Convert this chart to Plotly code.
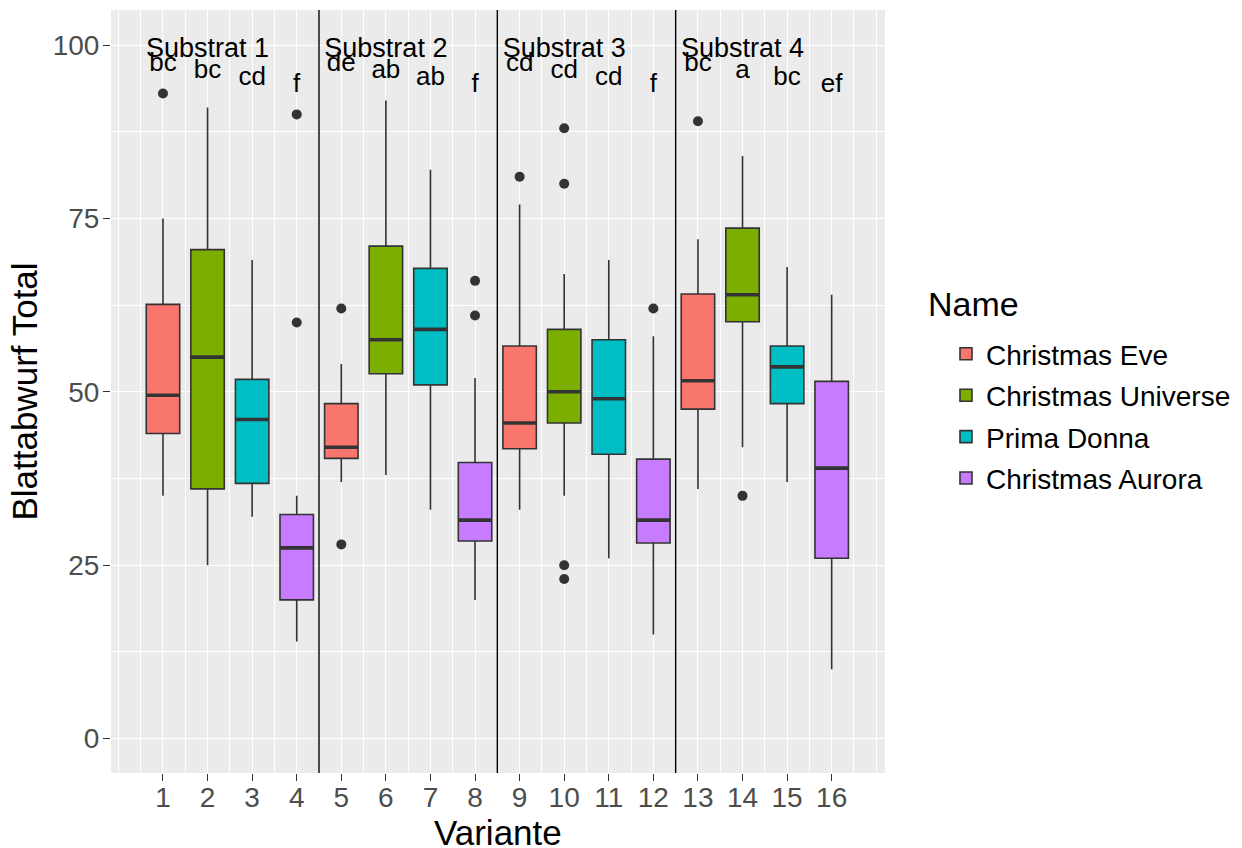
import plotly.graph_objects as go

# ---------------- data ----------------
variante = list(range(1, 17))
names = ["Christmas Eve", "Christmas Universe", "Prima Donna", "Christmas Aurora"]
colors = ["#F8766D", "#7CAE00", "#00BFC4", "#C77CFF"]

# positions of each cultivar on the Variante axis
pos_eve = [1, 5, 9, 13]
pos_universe = [2, 6, 10, 14]
pos_prima = [3, 7, 11, 15]
pos_aurora = [4, 8, 12, 16]

# box statistics (lower whisker, Q1, median, Q3, upper whisker)
lo_eve = [35, 37, 33, 36]
q1_eve = [44, 40.4, 41.8, 47.5]
med_eve = [49.5, 42, 45.5, 51.6]
q3_eve = [62.6, 48.3, 56.6, 64.1]
hi_eve = [75, 54, 77, 72]

lo_universe = [25, 38, 35, 42]
q1_universe = [36, 52.6, 45.5, 60.1]
med_universe = [55, 57.5, 50, 64]
q3_universe = [70.5, 71, 59, 73.6]
hi_universe = [91, 92, 67, 84]

lo_prima = [32, 33, 26, 37]
q1_prima = [36.8, 51, 41, 48.3]
med_prima = [46, 59, 49, 53.6]
q3_prima = [51.8, 67.8, 57.5, 56.6]
hi_prima = [69, 82, 69, 68]

lo_aurora = [14, 20, 15, 10]
q1_aurora = [20, 28.5, 28.2, 26]
med_aurora = [27.5, 31.5, 31.5, 39]
q3_aurora = [32.3, 39.8, 40.3, 51.5]
hi_aurora = [35, 52, 58, 64]

# outliers
out_x = [1, 5, 5, 9, 13, 10, 10, 10, 10, 14, 4, 4, 8, 8, 12]
out_y = [93, 62, 28, 81, 89, 88, 80, 25, 23, 35, 90, 60, 66, 61, 62]

# significance letters
letters = ["bc", "bc", "cd", "f", "de", "ab", "ab", "f",
           "cd", "cd", "cd", "f", "bc", "a", "bc", "ef"]
letter_y = [97.2, 96.2, 95.2, 94.2] * 4

# substrate labels
substrat_labels = ["Substrat 1", "Substrat 2", "Substrat 3", "Substrat 4"]
substrat_x = [2, 6, 10, 14]
substrat_y = [99.2, 99.2, 99.2, 99.2]
separators = [4.5, 8.5, 12.5]

y_ticks = [0, 25, 50, 75, 100]
y_minor = [12.5, 37.5, 62.5, 87.5]
x_minor = [0, 17] + [v + 0.5 for v in range(0, 17)]

BOX_W = 0.75
FONT = "Liberation Sans, Arial, sans-serif"
EDGE = "#333333"

series = [
    (names[0], colors[0], pos_eve, lo_eve, q1_eve, med_eve, q3_eve, hi_eve),
    (names[1], colors[1], pos_universe, lo_universe, q1_universe, med_universe, q3_universe, hi_universe),
    (names[2], colors[2], pos_prima, lo_prima, q1_prima, med_prima, q3_prima, hi_prima),
    (names[3], colors[3], pos_aurora, lo_aurora, q1_aurora, med_aurora, q3_aurora, hi_aurora),
]

fig = go.Figure()
for name, col, pos, lo, q1, med, q3, hi in series:
    fig.add_trace(go.Box(
        x=pos, q1=q1, median=med, q3=q3, lowerfence=lo, upperfence=hi,
        name=name, legendgroup=name, width=BOX_W, fillcolor=col,
        line=dict(color=EDGE, width=1.6), whiskerwidth=0, boxpoints=False,
    ))
    # thick median bar
    mx, my = [], []
    for p, m in zip(pos, med):
        mx += [p - BOX_W / 2, p + BOX_W / 2, None]
        my += [m, m, None]
    fig.add_trace(go.Scatter(x=mx, y=my, mode="lines", line=dict(color=EDGE, width=3.6),
                             showlegend=False, hoverinfo="skip"))

fig.add_trace(go.Scatter(x=out_x, y=out_y, mode="markers",
                         marker=dict(color=EDGE, size=10), showlegend=False))

fig.add_trace(go.Scatter(x=variante, y=letter_y, mode="text", text=letters,
                         textfont=dict(family=FONT, size=26, color="black"),
                         textposition="middle center", showlegend=False))
fig.add_trace(go.Scatter(x=substrat_x, y=substrat_y, mode="text", text=substrat_labels,
                         textfont=dict(family=FONT, size=27, color="black"),
                         textposition="middle center", showlegend=False))

for s in separators:
    fig.add_vline(x=s, line=dict(color="black", width=1.4), layer="above")

# axis titles and legend title as annotations
fig.add_annotation(text="Variante", xref="paper", yref="paper", x=0.5, y=-0.0774,
                   xanchor="center", yanchor="middle", showarrow=False,
                   font=dict(size=35, color="black", family=FONT))
fig.add_annotation(text="Blattabwurf Total", xref="paper", yref="paper", x=-0.1124, y=0.5,
                   xanchor="center", yanchor="middle", textangle=-90, showarrow=False,
                   font=dict(size=35, color="black", family=FONT))
fig.add_annotation(text="Name", xref="paper", yref="paper", x=1.0530, y=0.6145,
                   xanchor="left", yanchor="middle", showarrow=False,
                   font=dict(size=34, color="black", family=FONT))

fig.update_layout(
    width=1234, height=840,
    paper_bgcolor="white", plot_bgcolor="#EBEBEB",
    margin=dict(l=103, r=357, t=2, b=75.3, autoexpand=False),
    boxmode="overlay",
    font=dict(family=FONT, color="black"),
    legend=dict(
        font=dict(size=28, color="black"),
        x=1.0788, xanchor="left", y=0.5818, yanchor="top",
        tracegroupgap=2, bgcolor="rgba(0,0,0,0)",
    ),
    xaxis=dict(
        range=[-0.166, 17.196], tickmode="array", tickvals=variante,
        ticktext=[str(v) for v in variante],
        ticks="outside", ticklen=7, tickwidth=1.4, tickcolor=EDGE,
        tickfont=dict(size=28, color="#4D4D4D"), ticklabelstandoff=-8,
        showgrid=True, gridcolor="white", gridwidth=1.4, zeroline=False,
        minor=dict(tickvals=x_minor, showgrid=True, gridcolor="white", gridwidth=0.8, ticks=""),
        showline=False, automargin=False,
    ),
    yaxis=dict(
        range=[-4.96, 105.05], tickmode="array", tickvals=y_ticks,
        ticks="outside", ticklen=7, tickwidth=1.4, tickcolor=EDGE,
        tickfont=dict(size=28, color="#4D4D4D"), ticklabelstandoff=-2,
        showgrid=True, gridcolor="white", gridwidth=1.4, zeroline=False,
        minor=dict(tickvals=y_minor, showgrid=True, gridcolor="white", gridwidth=0.8, ticks=""),
        showline=False, automargin=False,
    ),
)

fig.write_html("out.html")
